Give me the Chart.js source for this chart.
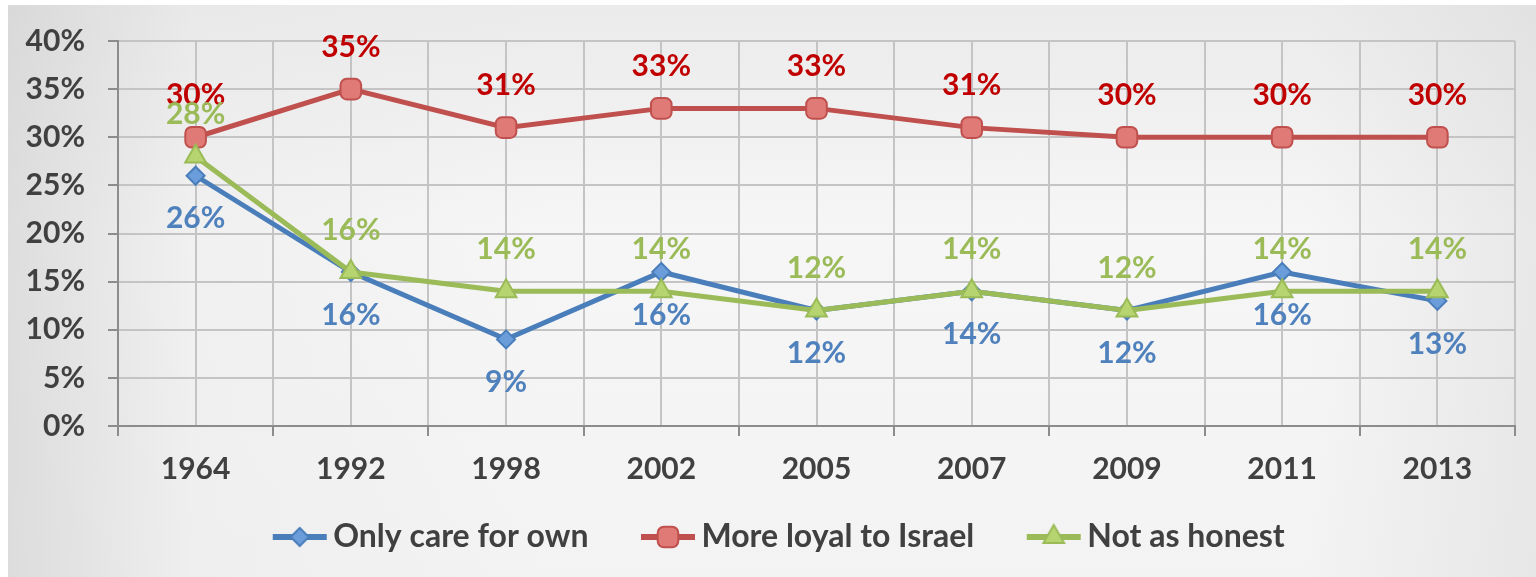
<!DOCTYPE html>
<html>
<head>
<meta charset="utf-8">
<script src="https://cdn.jsdelivr.net/npm/chart.js@4.4.1/dist/chart.umd.min.js"></script>
<style>
  html, body { margin: 0; padding: 0; background: #fff; }
  #stage { position: relative; width: 1536px; height: 577px; overflow: hidden; }
  #bg {
    position: absolute; left: 8px; top: 5px; right: 0; bottom: 0;
    background:
      linear-gradient(to right, rgba(205,205,205,0.6) 0%, rgba(228,228,228,0.3) 12%, rgba(255,255,255,0) 35%, rgba(255,255,255,0) 85%, rgba(212,212,212,0.4) 100%),
      linear-gradient(to bottom, #ebebeb 0%, #f6f6f6 40%, #f3f3f3 100%);
  }
  #chart { position: absolute; left: 0; top: 0; }
</style>
</head>
<body>
<div id="stage">
  <div id="bg"></div>
  <canvas id="chart" width="1536" height="577"></canvas>
</div>
<script>
const years = ['1964', '1992', '1998', '2002', '2005', '2007', '2009', '2011', '2013'];
const careForOwn = [26, 16, 9, 16, 12, 14, 12, 16, 13];
const loyalToIsrael = [30, 35, 31, 33, 33, 31, 30, 30, 30];
const notAsHonest = [28, 16, 14, 14, 12, 14, 12, 14, 14];
const seriesNames = ['Only care for own', 'More loyal to Israel', 'Not as honest'];

const lineColors = ['#4a7ebb', '#c0504d', '#9bbb59'];
const fillColors = ['#6b9ddb', '#e07a77', '#b6d46f'];
const labelColors = ['#4f81bd', '#c00000', '#9bbb59'];
const labelOffsets = [43, -42, -42];
const markers = [
  { style: 'rectRot', radius: 9 },
  { style: 'rectRounded', radius: 12 },
  { style: 'triangle', radius: 12 }
];
const FONT = 'Lato, "Open Sans", sans-serif';

// legend glyph: line with marker, drawn into a small canvas
function legendGlyph(i) {
  const c = document.createElement('canvas');
  c.width = 108; c.height = 32;
  const g = c.getContext('2d');
  g.strokeStyle = lineColors[i];
  g.lineWidth = 6;
  g.beginPath(); g.moveTo(53, 16); g.lineTo(107, 16); g.stroke();
  g.fillStyle = fillColors[i];
  g.strokeStyle = lineColors[i];
  g.lineWidth = 2;
  Chart.helpers.drawPoint(g, { pointStyle: markers[i].style, radius: markers[i].radius, rotation: 0, borderWidth: 2 }, 80, 16);
  return c;
}

const valueLabels = {
  id: 'valueLabels',
  afterDatasetsDraw(chart) {
    const ctx = chart.ctx;
    chart.data.datasets.forEach((ds, i) => {
      const meta = chart.getDatasetMeta(i);
      ctx.save();
      ctx.font = 'bold 30px ' + FONT;
      ctx.fillStyle = labelColors[i];
      ctx.textAlign = 'center';
      ctx.textBaseline = 'middle';
      meta.data.forEach((pt, j) => {
        ctx.fillText(ds.data[j] + '%', pt.x, pt.y + labelOffsets[i]);
      });
      ctx.restore();
    });
  }
};

function makeSet(i, data, order) {
  return {
    label: seriesNames[i],
    data: data,
    order: order,
    borderColor: lineColors[i],
    backgroundColor: fillColors[i],
    borderWidth: 5,
    tension: 0,
    pointStyle: markers[i].style,
    pointRadius: markers[i].radius,
    pointBorderWidth: 2,
    pointBorderColor: lineColors[i],
    pointBackgroundColor: fillColors[i]
  };
}

const ctx = document.getElementById('chart').getContext('2d');
new Chart(ctx, {
  type: 'line',
  data: {
    labels: years,
    datasets: [
      makeSet(0, careForOwn, 2),
      makeSet(1, loyalToIsrael, 1),
      makeSet(2, notAsHonest, 0)
    ]
  },
  options: {
    responsive: false,
    animation: false,
    layout: { padding: { left: 0, right: 21, top: 40, bottom: 14 } },
    scales: {
      x: {
        type: 'category',
        offset: true,
        grid: { offset: true, color: '#c4c4c4', lineWidth: 2, tickColor: '#8c8c8c', tickLength: 10 },
        border: { color: '#8c8c8c', width: 2 },
        ticks: { color: '#404040', font: { family: FONT, size: 30, weight: 'bold' }, padding: 15, maxRotation: 0 },
        afterFit(scale) { scale.height = 85; }
      },
      x2: {
        type: 'category',
        labels: years,
        position: 'bottom',
        offset: true,
        grid: { offset: false, color: '#c4c4c4', lineWidth: 2, drawTicks: false },
        border: { display: false },
        ticks: { display: false }
      },
      y: {
        min: 0,
        max: 40,
        ticks: {
          stepSize: 5,
          color: '#404040',
          font: { family: FONT, size: 30, weight: 'bold' },
          padding: 23,
          callback: v => v + '%'
        },
        grid: { color: '#c4c4c4', lineWidth: 2, tickColor: '#8c8c8c', tickLength: 10 },
        border: { color: '#8c8c8c', width: 2 },
        afterFit(scale) { scale.width = 118; }
      }
    },
    plugins: {
      tooltip: { enabled: false },
      legend: {
        position: 'bottom',
        labels: {
          usePointStyle: true,
          pointStyleWidth: 87,
          padding: 10,
          color: '#404040',
          font: { family: FONT, size: 32, weight: 'bold' },
          sort: (a, b) => a.datasetIndex - b.datasetIndex,
          generateLabels(chart) {
            const items = Chart.defaults.plugins.legend.labels.generateLabels(chart);
            items.forEach(it => { it.pointStyle = legendGlyph(it.datasetIndex); });
            return items;
          }
        }
      }
    }
  },
  plugins: [valueLabels]
});
</script>
</body>
</html>
